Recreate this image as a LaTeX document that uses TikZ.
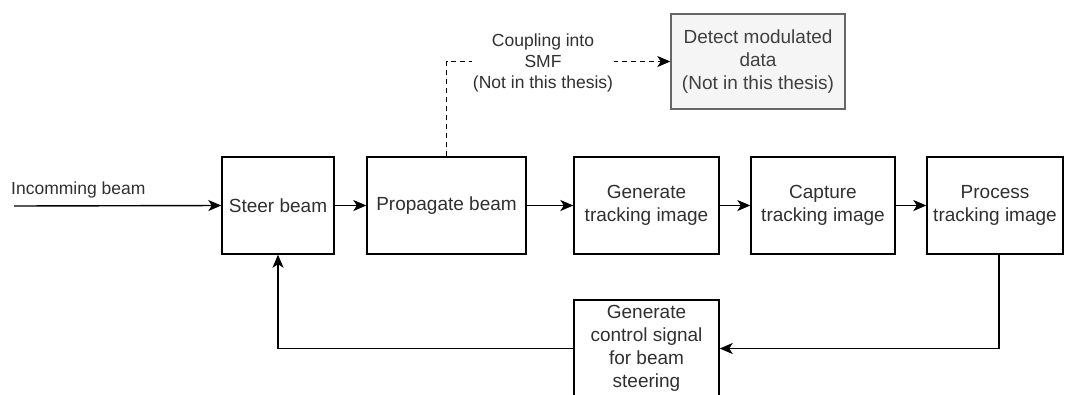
\documentclass[tikz,border=0pt]{standalone}
\usepackage{fontspec}
\setmainfont{Liberation Sans}
\usetikzlibrary{arrows.meta}
\definecolor{txt}{HTML}{303030}
\definecolor{greytxt}{HTML}{404040}
\definecolor{greyfill}{HTML}{F5F5F5}
\definecolor{greyline}{HTML}{666666}
\begin{document}
\begin{tikzpicture}[x=1pt,y=-1pt,
  blockbox/.style={draw=black, line width=1.4pt, fill=white, text=txt,
    align=center, inner sep=2pt, minimum height=97pt,
    font=\fontsize{19}{23}\selectfont},
  greybox/.style={blockbox, draw=greyline, fill=greyfill, text=greytxt},
  flow/.style={line width=1.4pt,
    -{Stealth[length=13pt,width=11pt,inset=3.5pt]}},
  dashflow/.style={flow, dash pattern=on 5pt off 4pt},
  edgetext/.style={text=txt, align=center, inner sep=1pt,
    font=\fontsize{17.5}{21}\selectfont}
]
\useasboundingbox (0,0) rectangle (1065,394);
\clip (0,0) rectangle (1065,394);

% main processing chain
\node[blockbox, minimum width=112pt] (steer) at (278,205.5) {Steer beam};
\node[blockbox, minimum width=159pt] (prop) at (446.5,205.5) {Propagate beam};
\node[blockbox, minimum width=145pt] (gen) at (646.5,205.5) {Generate\\tracking image};
\node[blockbox, minimum width=144pt] (cap) at (823,205.5) {Capture\\tracking image};
\node[blockbox, minimum width=136pt] (proc) at (995,205.5) {Process\\tracking image};

% feedback block below the chain
\node[blockbox, minimum width=145pt] (ctrl) at (646.5,348.5)
  {Generate\\control signal\\for beam\\steering};

% optional branch outside the scope
\node[greybox, minimum width=174pt, minimum height=95pt] (detect) at (758,61.5)
  {Detect modulated\\data\\(Not in this thesis)};

% incoming beam
\coordinate (inbeam) at (14,206);
\draw[flow] (inbeam) -- (steer.west);
\node[edgetext, anchor=west] (inlabel) at (10,190) {Incomming beam};

% forward connections
\draw[flow] (steer) -- (prop);
\draw[flow] (prop) -- (gen);
\draw[flow] (gen) -- (cap);
\draw[flow] (cap) -- (proc);

% feedback loop
\coordinate (procout) at ([xshift=4pt]proc.south);
\draw[flow] (procout) |- (ctrl.east);
\draw[flow] (ctrl.west) -| (steer.south);

% dashed coupling branch
\coordinate (bend) at (prop.north |- detect.west);
\draw[dashflow] (prop.north) -- (bend) -- (detect.west);
\node[edgetext, fill=white] (couple) at (543,62.5)
  {Coupling into\\SMF\\(Not in this thesis)};
\end{tikzpicture}
\end{document}
